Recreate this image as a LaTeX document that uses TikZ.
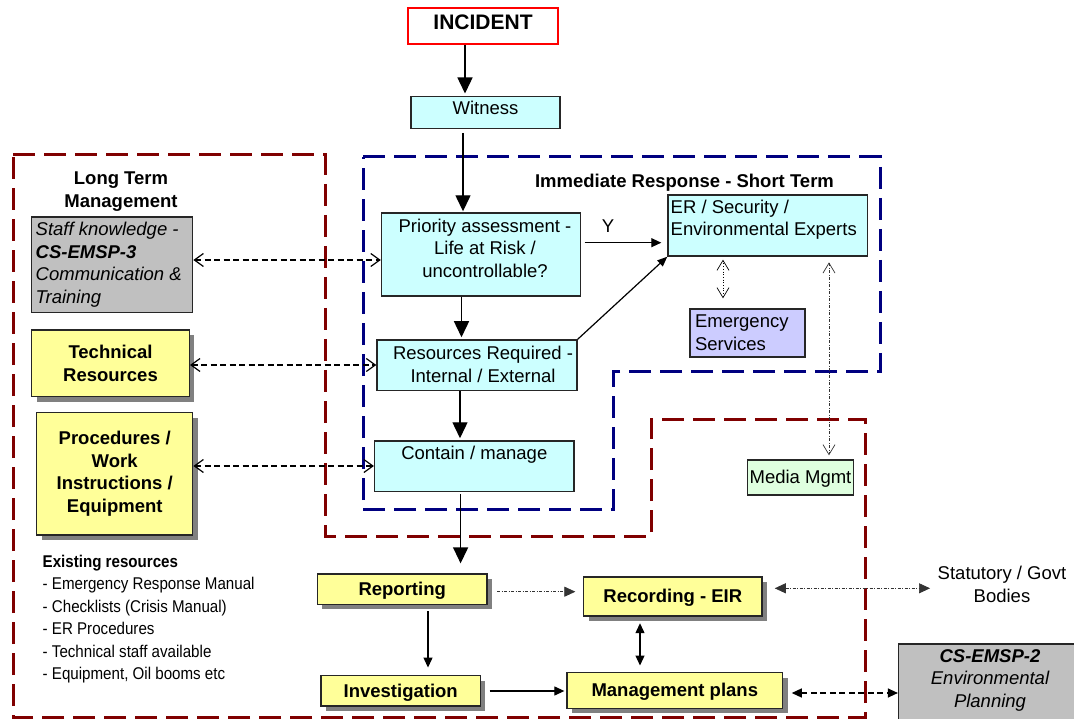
\documentclass[tikz,border=0pt]{standalone}
\usepackage{fontspec}
\setmainfont{Liberation Sans}
\newfontfamily\narrowfont[FakeStretch=0.89]{Liberation Sans}
\usetikzlibrary{arrows.meta,shadows}
\definecolor{cyanf}{HTML}{CCFFFF}
\definecolor{yelf}{HTML}{FFFF99}
\definecolor{grayf}{HTML}{C0C0C0}
\definecolor{lavf}{HTML}{CCCCFF}
\definecolor{greenf}{HTML}{DFFFDF}
\definecolor{navyc}{HTML}{000080}
\definecolor{maroonc}{HTML}{800000}
\definecolor{shadc}{HTML}{808080}
\newcommand\regf{\fontsize{18.5}{22.6}\selectfont}
\newcommand\boldf{\bfseries\fontsize{18.5}{22.6}\selectfont}
\begin{document}
\begin{tikzpicture}[x=1pt,y=-1pt,
 bx/.style={draw=black!85, line width=1.4pt, rectangle, inner sep=3pt, font=\regf},
 cbox/.style={bx, fill=cyanf},
 ybox/.style={bx, fill=yelf, font=\boldf, align=center,
   general shadow={fill=shadc, shadow xshift=5pt, shadow yshift=-5pt}},
 one/.style={text height=13.5pt, text depth=1pt},
 zone/.style={line width=3pt, dash pattern=on 22pt off 9pt},
 txt/.style={inner sep=0pt, font=\regf},
 mainarr/.style={line width=1.4pt, -{Triangle[length=16pt,width=15pt]}},
 smallarr/.style={line width=1.2pt, -{Triangle[length=10pt,width=9pt]}},
 dblsmall/.style={line width=1.2pt, {Triangle[length=10pt,width=9pt]}-{Triangle[length=10pt,width=9pt]}},
 dasharr/.style={line width=1.2pt, dash pattern=on 6pt off 3.5pt,
   {Straight Barb[length=9pt,width=13pt]}-{Straight Barb[length=9pt,width=13pt]}},
 dashfill/.style={line width=1.2pt, dash pattern=on 6pt off 3.5pt,
   {Triangle[length=10pt,width=9pt]}-{Triangle[length=10pt,width=9pt]}},
 ddline/.style={line width=0.7pt, draw=black!80, dash pattern=on 3pt off 1.5pt on 1pt off 1.5pt},
 dotarr/.style={line width=0.7pt, dotted,
   {Straight Barb[length=10pt,width=12pt]}-{Straight Barb[length=10pt,width=12pt]}},
]
\clip (0,0) rectangle (1074,719);
\fill[white] (0,0) rectangle (1074,719);

% dashed zones
\draw[zone, draw=maroonc] (13,155) -- (325,155) -- (325,536) -- (651,536) -- (651,419)
  -- (865,419) -- (865,717) -- (13,717) -- cycle;
\draw[zone, draw=navyc] (363,157) -- (880,157) -- (880,372) -- (613,372) -- (613,509)
  -- (363,509) -- cycle;

% nodes
\node[bx, draw=red, line width=2.2pt, font=\bfseries\fontsize{21}{24}\selectfont,
  minimum width=150.6pt, minimum height=36pt, text height=15pt, text depth=9.2pt]
  (inc) at (483,26.3) {INCIDENT};
\node[cbox, minimum width=149pt, minimum height=31.6pt, text height=13.5pt, text depth=8.7pt]
  (wit) at (485.5,112.5) {Witness};
\node[cbox, minimum width=199pt, minimum height=83pt] (pri) at (481,254.5) {};
\node[txt, align=center] (prit) at (485,248) {Priority assessment -\\Life at Risk /\\uncontrollable?};
\node[cbox, minimum width=199.5pt, minimum height=61pt] (er) at (767.75,225.5) {};
\node[txt, align=left, anchor=west] (ert) at (670.5,219.7) {ER / Security /\\Environmental Experts};
\node[cbox, minimum width=200pt, minimum height=50.7pt] (res) at (477,365.3) {};
\node[txt, align=center] (rest) at (483,364.6) {Resources Required -\\Internal / External};
\node[cbox, minimum width=199.4pt, minimum height=50.7pt, text height=13.5pt, text depth=27.5pt]
  (con) at (474.3,466.3) {Contain / manage};
\node[bx, fill=lavf, minimum width=115pt, minimum height=48pt, align=left,
  text width=105pt, inner xsep=5pt] (ems) at (747.5,333) {Emergency\\Services};
\node[bx, fill=greenf, minimum width=106pt, minimum height=35pt, inner xsep=1pt, one]
  (med) at (800.5,477.5) {Media Mgmt};

\node[txt, font=\boldf, align=center] (ltm) at (121,191.5) {Long Term\\Management};
\node[txt, font=\boldf] (irt) at (684.5,182.5) {Immediate Response - Short Term};
\node[txt] (ylab) at (608,226) {Y};

\node[bx, fill=grayf, minimum width=161pt, minimum height=95.7pt] (staff) at (112.2,264.8) {};
\node[txt, font=\regf\itshape, align=left, anchor=west] (stafft) at (35.5,264.8)
  {Staff knowledge -\\{\bfseries CS-EMSP-3}\\Communication \&\\Training};
\node[ybox, minimum width=157.6pt, minimum height=66.7pt] (tech) at (110.5,363.3) {Technical\\Resources};
\node[ybox, minimum width=156pt, minimum height=122.3pt] (proc) at (114.7,473.8)
  {Procedures /\\Work\\Instructions /\\Equipment};

\node[txt, font=\narrowfont\fontsize{17}{22.5}\selectfont, align=left, anchor=west] (exist) at (42.5,619)
  {{\bfseries Existing resources}\\- Emergency Response Manual\\- Checklists (Crisis Manual)\\- ER Procedures\\- Technical staff available\\- Equipment, Oil booms etc};

\node[ybox, one, minimum width=169.5pt, minimum height=30.3pt] (rep) at (402.2,589.2) {Reporting};
\node[ybox, one, minimum width=178.5pt, minimum height=39pt] (rec) at (672.8,596.5) {Recording - EIR};
\node[ybox, one, minimum width=159.4pt, minimum height=30.3pt] (inv) at (400.7,690.9) {Investigation};
\node[ybox, one, minimum width=215.5pt, minimum height=35.6pt] (man) at (674.8,690.5) {Management plans};

\node[txt, align=center] (stat) at (1002,584.4) {Statutory / Govt\\Bodies};
\node[bx, fill=grayf, minimum width=186.4pt, minimum height=82pt] (cs2) at (991.8,685) {};
\node[txt, font=\regf\itshape, align=center] (cs2t) at (990,680.3)
  {{\bfseries CS-EMSP-2}\\Environmental\\Planning};

% connectors
\draw[mainarr, shorten >=2.5pt] (inc.south -| 465,0) -- (wit.north -| 465,0);
\draw[mainarr, shorten <=4pt, shorten >=1pt] (wit.south -| 463,0) -- (pri.north -| 463,0);
\draw[mainarr, shorten >=2pt] (pri.south -| 461.5,0) -- (res.north -| 461.5,0);
\draw[mainarr, shorten >=2pt] (res.south -| 460,0) -- (con.north -| 460,0);
\draw[mainarr, shorten <=2pt, shorten >=10pt] (con.south -| 460.6,0) -- (rep.north -| 460.6,0);
\draw[smallarr, shorten <=6pt, shorten >=7.5pt] (rep.south -| 428,0) -- (inv.north -| 428,0);
\draw[smallarr, shorten <=8.5pt, shorten >=2pt] (inv.east |- 0,691) -- (man.west |- 0,691);
\draw[dblsmall, shorten <=6.5pt, shorten >=6.5pt] (rec.south -| 640,0) -- (man.north -| 640,0);
\draw[smallarr, shorten <=3.5pt, shorten >=6pt] (pri.east |- 0,242.7) -- (er.west |- 0,242.7);
\draw[line width=1.2pt, -{Triangle[length=10pt,width=8pt]}] (res.north east) -- (er.south west);

\draw[ddline, -{Triangle[length=11pt,width=10pt]}, shorten <=9.5pt, shorten >=7.5pt]
  (rep.east |- 0,591.7) -- (rec.west |- 0,591.7);
\draw[ddline, {Triangle[length=11pt,width=10pt]}-{Triangle[length=11pt,width=10pt]},
  shorten <=12pt, shorten >=7.5pt] (rec.east |- 0,588.3) -- (stat.west |- 0,588.3);
\draw[dashfill, shorten <=8.5pt] (man.east |- 0,693) -- (cs2.west |- 0,693);

\draw[dasharr] (staff.east |- 0,260) -- (pri.west |- 0,260);
\draw[dasharr] (tech.east |- 0,365) -- (res.west |- 0,365);
\draw[dasharr] (proc.east |- 0,466) -- (con.west |- 0,466);

\draw[dotarr, shorten <=3pt, shorten >=10pt] (er.south -| 723,0) -- (ems.north -| 723,0);
\draw[ddline, {Straight Barb[length=10pt,width=12pt]}-{Straight Barb[length=10pt,width=12pt]},
  shorten <=5.7pt, shorten >=4pt] (er.south -| 829,0) -- (med.north -| 829,0);
\end{tikzpicture}
\end{document}
